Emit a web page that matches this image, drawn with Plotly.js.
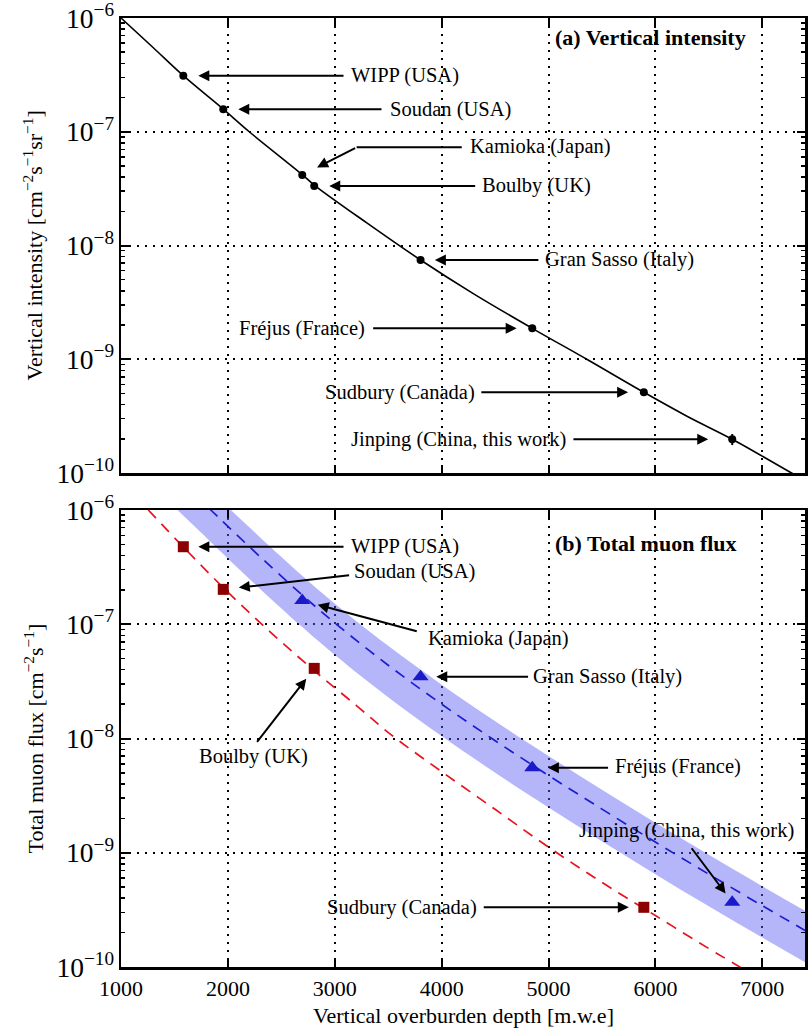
<!DOCTYPE html>
<html>
<head>
<meta charset="utf-8">
<script src="https://cdn.plot.ly/plotly-3.0.1.min.js"></script>
<style>html,body{margin:0;padding:0;background:#fff}#chart{width:812px;height:1029px}</style>
</head>
<body>
<div id="chart"></div>
<script>
// ---------------- DATA ----------------
const sites = ['WIPP (USA)', 'Soudan (USA)', 'Kamioka (Japan)', 'Boulby (UK)',
               'Gran Sasso (Italy)', 'Fréjus (France)', 'Sudbury (Canada)', 'Jinping (China, this work)'];
const siteDepth = [1583, 1957, 2696, 2808, 3803, 4848, 5892, 6719];            // m.w.e
const vertIntensity = [3.11e-7, 1.58e-7, 4.17e-8, 3.34e-8, 7.46e-9, 1.87e-9, 5.12e-10, 1.98e-10];
const vertIntensityErr = [0, 0, 0, 0, 0, 0, 0, 0.22e-10];
const totalFlux = [4.77e-7, 2.02e-7, 1.61e-7, 4.11e-8, 3.47e-8, 5.56e-9, 3.33e-10, 3.68e-10];
const siteType = ['flat', 'flat', 'mountain', 'flat', 'mountain', 'mountain', 'flat', 'mountain'];

// vertical intensity fit curve
const vertCurveDepth = [1000, 1300, 1583, 1957, 2200, 2696, 2808, 3300, 3803, 4300, 4848, 5366, 5892, 6300, 6719, 7274, 7400];
const vertCurveVal = [1.0e-6, 5.5e-7, 3.11e-7, 1.58e-7, 1.0e-7, 4.2e-8, 3.4e-8, 1.58e-8, 7.46e-9, 3.76e-9, 1.87e-9, 9.9e-10, 5.12e-10, 3.14e-10, 1.98e-10, 1.0e-10, 8.6e-11];

// total flux: flat-overburden curve (red dashed)
const flatDepth = [1255, 1600, 2000, 2400, 2800, 3200, 3532, 4000, 4500, 5000, 5500, 6000, 6500, 6790, 7000];
const flatFlux = [1.0e-6, 4.57e-7, 1.91e-7, 8.51e-8, 3.98e-8, 1.95e-8, 1.07e-8, 5.13e-9, 2.40e-9, 1.12e-9, 5.50e-10, 2.82e-10, 1.45e-10, 1.0e-10, 7.6e-11];

// total flux: mountain curve (blue dashed) and its band
const mountDepth = [1700, 1850, 2000, 2300, 2696, 3010, 3500, 4000, 4470, 5000, 5500, 6000, 6500, 7000, 7400];
const mountFlux = [1.34e-6, 9.8e-7, 7.18e-7, 3.91e-7, 1.80e-7, 1.01e-7, 4.38e-8, 2.0e-8, 1.0e-8, 4.75e-9, 2.41e-9, 1.24e-9, 6.49e-10, 3.44e-10, 2.09e-10];
const bandDepth = [1500, 1700, 1850, 2000, 2300, 2696, 3010, 3500, 4000, 4470, 5000, 5500, 6000, 6500, 7000, 7400];
const bandUpper = [2.99e-6, 1.98e-6, 1.45e-6, 1.06e-6, 5.78e-7, 2.66e-7, 1.49e-7, 6.47e-8, 2.96e-8, 1.48e-8, 7.03e-9, 3.56e-9, 1.83e-9, 9.59e-10, 5.09e-10, 3.10e-10];
const bandLower = [1.06e-6, 7.02e-7, 5.14e-7, 3.77e-7, 2.05e-7, 9.44e-8, 5.30e-8, 2.30e-8, 1.05e-8, 5.25e-9, 2.49e-9, 1.26e-9, 6.49e-10, 3.40e-10, 1.81e-10, 1.10e-10];

const xTickVals = [1000, 2000, 3000, 4000, 5000, 6000, 7000];

// ---------------- STYLE / LAYOUT ----------------
const FONT = 'Liberation Serif';
const W = 812, H = 1029, ML = 121, MR = 7, MT = 18, MB = 62;
const PH = H - MT - MB;
const PW = W - ML - MR;
const pxX = px => (px - ML) / PW;
const pxY = py => (H - MB - py) / PH;

const flatIdx = siteType.map((t, i) => t === 'flat' ? i : -1).filter(i => i >= 0);
const mountIdx = siteType.map((t, i) => t === 'mountain' ? i : -1).filter(i => i >= 0);

const traces = [
  {x: vertCurveDepth, y: vertCurveVal, xaxis: 'x2', yaxis: 'y2', mode: 'lines',
   line: {color: 'black', width: 1.6, shape: 'spline'}, hoverinfo: 'skip'},
  {x: siteDepth, y: vertIntensity, xaxis: 'x2', yaxis: 'y2', mode: 'markers',
   marker: {color: 'black', size: 8},
   error_y: {type: 'data', array: vertIntensityErr, visible: true, thickness: 2, width: 0, color: 'black'}},
  // band: lower edge, then upper edge filled down to it
  {x: bandDepth, y: bandLower, xaxis: 'x', yaxis: 'y', mode: 'lines',
   line: {width: 0, shape: 'spline', color: 'rgba(0,0,0,0)'}, hoverinfo: 'skip'},
  {x: bandDepth, y: bandUpper, xaxis: 'x', yaxis: 'y', mode: 'lines', fill: 'tonexty',
   fillcolor: 'rgba(90,90,245,0.45)', line: {width: 0, shape: 'spline', color: 'rgba(0,0,0,0)'}, hoverinfo: 'skip'},
  {x: flatDepth, y: flatFlux, xaxis: 'x', yaxis: 'y', mode: 'lines',
   line: {color: '#e8131f', width: 1.7, dash: '11px,8px', shape: 'spline'}},
  {x: mountDepth, y: mountFlux, xaxis: 'x', yaxis: 'y', mode: 'lines',
   line: {color: '#1c1cd0', width: 1.7, dash: '11px,8px', shape: 'spline'}},
  {x: flatIdx.map(i => siteDepth[i]), y: flatIdx.map(i => totalFlux[i]), xaxis: 'x', yaxis: 'y',
   mode: 'markers', marker: {symbol: 'square', color: '#8b0000', size: 11}},
  {x: mountIdx.map(i => siteDepth[i]), y: mountIdx.map(i => totalFlux[i]), xaxis: 'x', yaxis: 'y',
   mode: 'markers', marker: {symbol: 'triangle-up', color: '#1a1ac8', size: 14}}
];

const xAxisBase = {
  range: [1000, 7400], tickvals: xTickVals, ticks: 'inside', ticklen: 8, tickwidth: 2, tickcolor: 'black',
  mirror: 'ticks', showline: true, linewidth: 2.5, linecolor: 'black',
  showgrid: true, gridcolor: 'black', gridwidth: 2, griddash: '2px,6px', zeroline: false,
  tickfont: {family: FONT, size: 22, color: 'black'}
};
const yAxisBase = {
  type: 'log', range: [-10, -6], dtick: 1, exponentformat: 'power', ticklabeloverflow: 'allow',
  ticks: 'inside', ticklen: 8, tickwidth: 2, tickcolor: 'black',
  minor: {ticks: 'inside', ticklen: 4, tickwidth: 1.5, tickcolor: 'black', dtick: 'D1', showgrid: false},
  mirror: 'ticks', showline: true, linewidth: 2.5, linecolor: 'black',
  showgrid: true, gridcolor: 'black', gridwidth: 2, griddash: '2px,6px', zeroline: false,
  tickfont: {family: FONT, size: 22, color: 'black'}
};

const topGeom = [
  {tx: 161.7, ty: 0, so: 15, lx: 166, ly: 0, an: 'left'},
  {tx: 159.7, ty: 0, so: 15, lx: 165, ly: 0, an: 'left'},
  {tx: 54.4, ty: -27.7, so: 16.6, lx: 166, ly: -28.3, an: 'left', seg: 106.6},
  {tx: 162.4, ty: 0, so: 15, lx: 165.5, ly: 0, an: 'left'},
  {tx: 119.3, ty: 0, so: 14.3, lx: 122.5, ly: 0, an: 'left'},
  {tx: -160.6, ty: 0, so: 15.6, lx: -165.5, ly: 0, an: 'right'},
  {tx: -164, ty: 0, so: 15.7, lx: -167, ly: 0, an: 'right'},
  {tx: -160.3, ty: 0, so: 24, lx: -164, ly: 0, an: 'right'}
];
const botGeom = [
  {tx: 161.7, ty: 0, so: 15, lx: 166, ly: 0, an: 'left'},
  {tx: 127.3, ty: -14.3, so: 15.6, lx: 129, ly: -17.6, an: 'left'},
  {tx: 116, ty: 31, so: 16, lx: 124, ly: 37.6, an: 'left'},
  {tx: -58.3, ty: 75, so: 13, lx: -117, ly: 88.4, an: 'left'},
  {tx: 109, ty: 0, so: 15.7, lx: 110.5, ly: 0, an: 'left'},
  {tx: 77.3, ty: 0, so: 15.6, lx: 80.5, ly: -1, an: 'left'},
  {tx: -161.6, ty: 0, so: 15, lx: -165, ly: 0, an: 'right'},
  {tx: -41.7, ty: -55.6, so: 11, lx: -155, ly: -72.3, an: 'left'}
];

const anns = [];
function addLabel(xr, yr, i, val, g) {
  const x = siteDepth[i], y = Math.log10(val);
  anns.push({xref: xr, yref: yr, x: x, y: y, text: '', showarrow: true, axref: 'pixel', ayref: 'pixel',
             ax: g.tx, ay: g.ty, standoff: g.so, arrowhead: 2, arrowsize: 1.1, arrowwidth: 2, arrowcolor: 'black'});
  if (g.seg) {
    anns.push({xref: xr, yref: yr, x: x, y: y, xshift: g.tx, yshift: -g.ty, text: '', showarrow: true,
               axref: 'pixel', ayref: 'pixel', ax: g.seg, ay: 0, arrowhead: 0, arrowwidth: 2, arrowcolor: 'black'});
  }
  anns.push({xref: xr, yref: yr, x: x, y: y, xshift: g.lx, yshift: -g.ly, text: sites[i], showarrow: false,
             xanchor: g.an, yanchor: 'middle', font: {family: FONT, size: 20.5, color: 'black'}});
}
sites.forEach((s, i) => addLabel('x2', 'y2', i, vertIntensity[i], topGeom[i]));
sites.forEach((s, i) => addLabel('x', 'y', i, totalFlux[i], botGeom[i]));

anns.push({xref: 'paper', yref: 'paper', x: pxX(553), y: pxY(38), xanchor: 'left', yanchor: 'middle',
           text: '<b>(a) Vertical intensity</b>', showarrow: false, font: {family: FONT, size: 22, color: 'black'}});
anns.push({xref: 'paper', yref: 'paper', x: pxX(553), y: pxY(543), xanchor: 'left', yanchor: 'middle',
           text: '<b>(b) Total muon flux</b>', showarrow: false, font: {family: FONT, size: 22, color: 'black'}});
anns.push({xref: 'paper', yref: 'paper', x: 0.5, y: pxY(1015), xanchor: 'center', yanchor: 'middle',
           text: 'Vertical overburden depth [m.w.e]', showarrow: false, font: {family: FONT, size: 22, color: 'black'}});
anns.push({xref: 'paper', yref: 'paper', x: pxX(33), y: pxY(245.5), xanchor: 'center', yanchor: 'middle', textangle: -90,
           text: 'Vertical intensity [cm<sup>−2</sup>s<sup>−1</sup>sr<sup>−1</sup>]', showarrow: false,
           font: {family: FONT, size: 22, color: 'black'}});
anns.push({xref: 'paper', yref: 'paper', x: pxX(33), y: pxY(738.5), xanchor: 'center', yanchor: 'middle', textangle: -90,
           text: 'Total muon flux [cm<sup>−2</sup>s<sup>−1</sup>]', showarrow: false,
           font: {family: FONT, size: 22, color: 'black'}});

const layout = {
  width: W, height: H, margin: {l: ML, r: MR, t: MT, b: MB, pad: 0},
  paper_bgcolor: 'white', plot_bgcolor: 'white', showlegend: false,
  font: {family: FONT, color: 'black'},
  xaxis: Object.assign({}, xAxisBase, {anchor: 'y', domain: [0, 1]}),
  xaxis2: Object.assign({}, xAxisBase, {anchor: 'y2', domain: [0, 1], matches: 'x', showticklabels: false}),
  yaxis: Object.assign({}, yAxisBase, {anchor: 'x', domain: [0, pxY(510)]}),
  yaxis2: Object.assign({}, yAxisBase, {anchor: 'x2', domain: [pxY(473), 1]}),
  annotations: anns
};

Plotly.newPlot('chart', traces, layout, {displayModeBar: false, staticPlot: true});
</script>
</body>
</html>
